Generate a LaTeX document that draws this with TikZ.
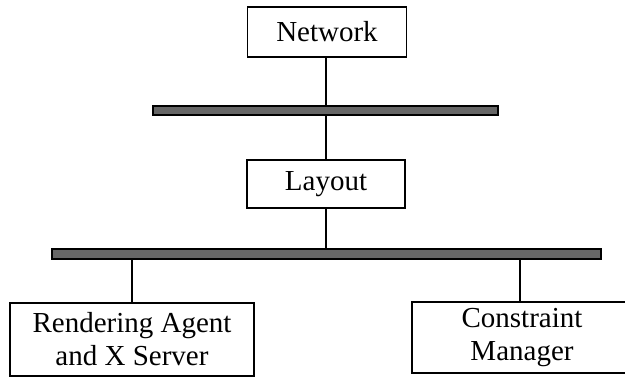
\documentclass[tikz,border=0pt]{standalone}
\usepackage{fontspec}
\setmainfont{Liberation Serif}
\begin{document}
\begin{tikzpicture}[x=1pt,y=-1pt,
    box/.style={draw, line width=1.8pt, inner sep=0pt, align=center,
        font=\fontsize{29}{33}\selectfont},
    bus/.style={draw, line width=1.5pt, fill=black!60, inner sep=0pt},
    link/.style={line width=1.8pt}]
        \clip (0,0) rectangle (625,377);
        % module tree on two buses
        \node[box, minimum width=159pt, minimum height=50pt] (network) at (327,32) {Network};
        \node[bus, minimum width=345pt, minimum height=9pt] (bus1) at (325.5,110.5) {};
        \node[box, minimum width=158pt, minimum height=48pt] (layout) at (326,184) {Layout};
        \node[bus, minimum width=549pt, minimum height=10pt] (bus2) at (326.5,254) {};
        \node[box, minimum width=244pt, minimum height=73pt] (render) at (132,339.5) {Rendering Agent\\and X Server};
        \node[box, minimum width=220pt, minimum height=71pt] (constraint) at (522,337.5) {Constraint\\Manager};
        \draw[link] ([xshift=-1pt]network.south) -- ([xshift=-1pt]network.south |- bus1.north);
        \draw[link] (layout.north) -- (layout.north |- bus1.south);
        \draw[link] (layout.south) -- (layout.south |- bus2.north);
        \draw[link] (render.north) -- (render.north |- bus2.south);
        \draw[link] ([xshift=-2pt]constraint.north) -- ([xshift=-2pt]constraint.north |- bus2.south);
    \end{tikzpicture}
\end{document}
